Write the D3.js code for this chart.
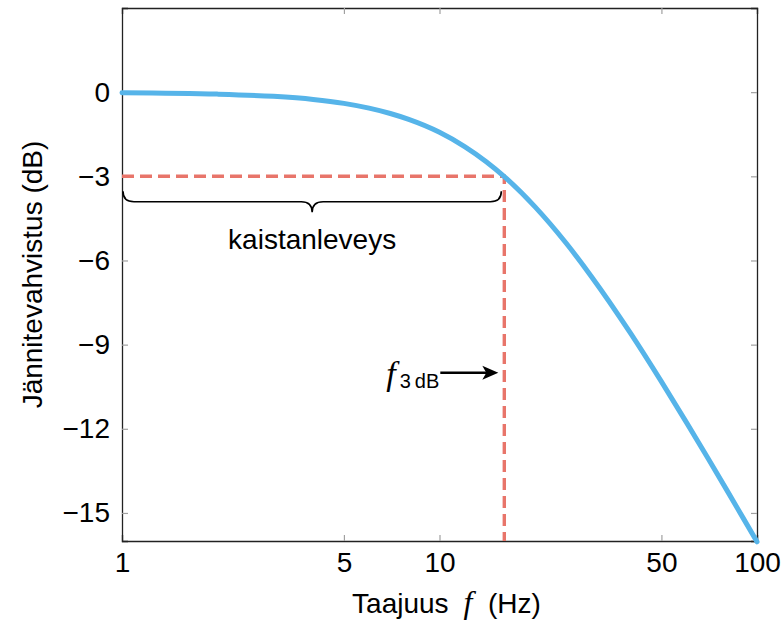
<!DOCTYPE html>
<html>
<head>
<meta charset="utf-8">
<script src="https://cdn.jsdelivr.net/npm/d3@7"></script>
<style>
  body { margin: 0; background: #fff; }
  text { font-family: "Liberation Sans", Arial, sans-serif; fill: #000; }
</style>
</head>
<body>
<div class="main"></div>
<script>
// frequency response
var freq = [1, 2, 3, 4, 5, 6, 7, 8, 10, 12, 14, 16, 20, 25, 30, 40, 50, 60, 70, 80, 90, 100];
var gain = [-0.02, -0.07, -0.15, -0.26, -0.40, -0.57, -0.76, -0.97, -1.43, -1.94, -2.47, -3.01,
            -4.09, -5.37, -6.55, -8.60, -10.32, -11.78, -13.04, -14.15, -15.14, -16.03];
var cutoffFreq = 16;
var cutoffGain = -3;
var xTicks = [1, 5, 10, 50, 100];
var yTicks = [0, -3, -6, -9, -12, -15];

var width = 784, height = 623;
var margin = {top: 8, right: 27, bottom: 82, left: 122};
var w = width - margin.left - margin.right;
var h = height - margin.top - margin.bottom;
var fontSize = "28px";

var svg = d3.select(".main")
    .append("svg")
        .attr("width", width)
        .attr("height", height);

var g = svg.append("g")
    .attr("transform", "translate(" + margin.left + "," + margin.top + ")");

var x = d3.scaleLog()
    .domain([1, 100])
    .range([0, w]);

var y = d3.scaleLinear()
    .domain([-16, 3])
    .range([h, 0]);

var fmt = d => d < 0 ? "\u2212" + Math.abs(d) : String(d);

// axes, ticks pointing inward
g.append("g")
    .attr("transform", "translate(0," + h + ")")
    .call(d3.axisBottom(x).tickValues(xTicks).tickFormat(d => d).tickSize(-6).tickPadding(11));
g.append("g")
    .call(d3.axisTop(x).tickValues(xTicks).tickFormat("").tickSize(-6));
g.append("g")
    .call(d3.axisLeft(y).tickValues(yTicks).tickFormat(fmt).tickSize(-6).tickPadding(12));
g.append("g")
    .attr("transform", "translate(" + w + ",0)")
    .call(d3.axisRight(y).tickValues(yTicks).tickFormat("").tickSize(-6));

g.selectAll(".domain").attr("stroke", "#222").attr("stroke-width", 1.3);
g.selectAll(".tick line").attr("stroke", "#a0a0a0").attr("stroke-width", 1.2);
g.selectAll(".tick text")
    .style("font-family", "'Liberation Sans', Arial, sans-serif")
    .style("font-size", fontSize)
    .attr("fill", "#000");

// dashed cutoff lines
var red = "#e8756a";
g.append("path")
    .attr("d", d3.line()([[x(1), y(cutoffGain)], [x(cutoffFreq), y(cutoffGain)], [x(cutoffFreq), h]]))
    .attr("fill", "none")
    .attr("stroke", red)
    .attr("stroke-width", 3.4)
    .attr("stroke-dasharray", "12,6");

// response curve
var line = d3.line()
    .x((d, i) => x(freq[i]))
    .y(d => y(d))
    .curve(d3.curveMonotoneX);

g.append("path")
    .datum(gain)
    .attr("d", line)
    .attr("fill", "none")
    .attr("stroke", "#56b4e9")
    .attr("stroke-width", 5)
    .attr("stroke-linecap", "round");

// brace under the bandwidth
var bx0 = x(1) + 1, bx1 = x(cutoffFreq) - 3;
var by0 = y(cutoffGain) + 15, bh = 21, r = 11;
var bm = (bx0 + bx1) / 2, bym = by0 + bh / 2;
var brace = d3.path();
brace.moveTo(bx0, by0);
brace.quadraticCurveTo(bx0, bym, bx0 + r, bym);
brace.lineTo(bm - r, bym);
brace.quadraticCurveTo(bm, bym, bm, by0 + bh);
brace.quadraticCurveTo(bm, bym, bm + r, bym);
brace.lineTo(bx1 - r, bym);
brace.quadraticCurveTo(bx1, bym, bx1, by0);
g.append("path")
    .attr("d", brace.toString())
    .attr("fill", "none")
    .attr("stroke", "#000")
    .attr("stroke-width", 1.6);

g.append("text")
    .attr("x", bm)
    .attr("y", by0 + 58)
    .attr("text-anchor", "middle")
    .style("font-size", fontSize)
    .text("kaistanleveys");

// f_3dB arrow
var ay = y(-10);
g.append("line")
    .attr("x1", x(cutoffFreq) - 64).attr("x2", x(cutoffFreq) - 12)
    .attr("y1", ay).attr("y2", ay)
    .attr("stroke", "#000")
    .attr("stroke-width", 2.4);
g.append("path")
    .attr("d", "M" + (x(cutoffFreq) - 6) + "," + ay + " l-16,-7 l4,7 l-4,7 Z")
    .attr("fill", "#000");

var lbl = g.append("text")
    .attr("x", x(cutoffFreq) - 65)
    .attr("y", ay + 12)
    .attr("text-anchor", "end");
lbl.append("tspan")
    .style("font-family", "'Liberation Serif', 'DejaVu Serif', serif")
    .style("font-style", "italic")
    .style("font-size", "34px")
    .text("f");
lbl.append("tspan")
    .attr("dx", 4)
    .attr("dy", 3)
    .style("font-size", "20px")
    .text("3\u2009dB");

// axis titles
var xl = svg.append("text")
    .attr("x", margin.left + x(10) + 7)
    .attr("y", 613)
    .attr("text-anchor", "middle")
    .style("font-size", fontSize);
xl.append("tspan").text("Taajuus ");
xl.append("tspan")
    .attr("dx", 7)
    .style("font-family", "'Liberation Serif', 'DejaVu Serif', serif")
    .style("font-style", "italic")
    .style("font-size", "32px")
    .text("f");
xl.append("tspan").attr("dx", 8).text(" (Hz)");

svg.append("text")
    .attr("transform", "translate(42," + (margin.top + y(-6.5)) + ") rotate(-90)")
    .attr("text-anchor", "middle")
    .style("font-size", fontSize)
    .text("Jännitevahvistus (dB)");
</script>
</body>
</html>
